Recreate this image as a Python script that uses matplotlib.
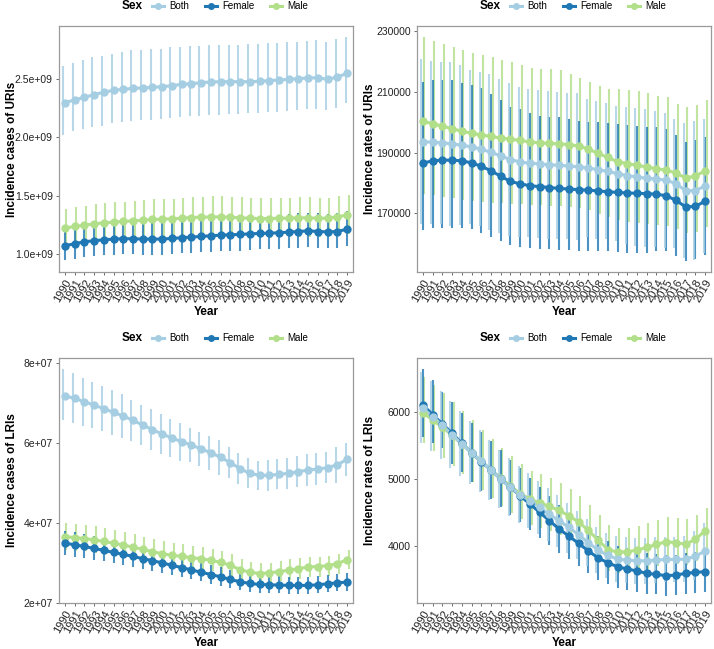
import matplotlib
matplotlib.use("Agg")
import matplotlib.pyplot as plt
from matplotlib.lines import Line2D
import numpy as np

plt.rcParams['font.family'] = ['Liberation Sans', 'DejaVu Sans']

YEARS = list(range(1990, 2020))
SEXES = ['Both', 'Female', 'Male']
COLORS = {'Both': '#A6CEE3', 'Female': '#1F78B4', 'Male': '#B2DF8A'}

# ---- Incidence cases of URIs (x 1e9) ----
uri_cases_both = [2.297, 2.320, 2.343, 2.366, 2.386, 2.403, 2.411, 2.420, 2.423, 2.429,
                  2.434, 2.443, 2.454, 2.460, 2.469, 2.474, 2.477, 2.477, 2.477, 2.477,
                  2.480, 2.486, 2.491, 2.497, 2.503, 2.509, 2.511, 2.497, 2.517, 2.549]
uri_cases_both_hi = [2.61, 2.64, 2.665, 2.69, 2.70, 2.715, 2.73, 2.745, 2.75, 2.755,
                     2.76, 2.77, 2.775, 2.78, 2.785, 2.79, 2.79, 2.795, 2.795, 2.80,
                     2.80, 2.805, 2.81, 2.815, 2.82, 2.825, 2.83, 2.82, 2.84, 2.86]
uri_cases_both_lo = [2.02, 2.05, 2.07, 2.09, 2.10, 2.12, 2.13, 2.14, 2.145, 2.15,
                     2.16, 2.165, 2.17, 2.18, 2.185, 2.19, 2.195, 2.20, 2.20, 2.205,
                     2.21, 2.215, 2.22, 2.225, 2.23, 2.24, 2.24, 2.23, 2.25, 2.29]
uri_cases_female = [1.071, 1.088, 1.105, 1.114, 1.122, 1.128, 1.131, 1.131, 1.128, 1.128,
                    1.128, 1.134, 1.139, 1.145, 1.151, 1.156, 1.162, 1.165, 1.168, 1.173,
                    1.176, 1.179, 1.182, 1.188, 1.193, 1.199, 1.193, 1.190, 1.193, 1.213]
uri_cases_female_hi = [1.21, 1.23, 1.25, 1.26, 1.27, 1.275, 1.28, 1.28, 1.275, 1.275,
                       1.275, 1.28, 1.29, 1.295, 1.30, 1.305, 1.31, 1.315, 1.32, 1.325,
                       1.33, 1.33, 1.335, 1.34, 1.35, 1.355, 1.35, 1.345, 1.35, 1.37]
uri_cases_female_lo = [0.945, 0.96, 0.975, 0.985, 0.99, 0.995, 1.0, 1.0, 0.995, 0.995,
                       0.995, 1.0, 1.005, 1.01, 1.015, 1.02, 1.025, 1.03, 1.03, 1.035,
                       1.04, 1.04, 1.045, 1.05, 1.055, 1.06, 1.055, 1.05, 1.055, 1.07]
uri_cases_male = [1.222, 1.236, 1.247, 1.259, 1.267, 1.273, 1.279, 1.284, 1.290, 1.296,
                  1.299, 1.301, 1.307, 1.313, 1.316, 1.318, 1.318, 1.316, 1.310, 1.307,
                  1.304, 1.304, 1.307, 1.307, 1.310, 1.310, 1.307, 1.307, 1.318, 1.335]
uri_cases_male_hi = [1.39, 1.40, 1.415, 1.43, 1.435, 1.445, 1.45, 1.455, 1.46, 1.47,
                     1.475, 1.475, 1.48, 1.49, 1.49, 1.495, 1.495, 1.49, 1.485, 1.48,
                     1.48, 1.48, 1.48, 1.48, 1.485, 1.485, 1.48, 1.48, 1.495, 1.51]
uri_cases_male_lo = [1.07, 1.08, 1.09, 1.10, 1.11, 1.115, 1.12, 1.125, 1.13, 1.135,
                     1.14, 1.14, 1.145, 1.15, 1.15, 1.155, 1.155, 1.15, 1.145, 1.145,
                     1.14, 1.14, 1.145, 1.145, 1.145, 1.145, 1.145, 1.145, 1.155, 1.17]

# ---- Incidence rates of URIs ----
uri_rates_both = [193600, 193400, 193200, 192900, 192400, 191900, 191100, 190100, 188900, 187700,
                  186900, 186500, 186300, 186000, 185800, 185600, 185300, 184900, 184400, 183800,
                  183100, 182400, 182000, 181500, 181300, 180900, 179800, 177400, 177500, 179000]
uri_rates_both_hi = [220700, 220200, 219800, 219800, 218700, 217200, 216500, 215700, 214200, 212800,
                     211700, 210800, 210600, 210400, 209900, 209700, 209500, 207500, 207100, 206200,
                     205300, 204900, 204600, 204200, 203800, 203100, 200900, 199600, 200500, 200900]
uri_rates_both_lo = [166500, 166600, 166600, 166000, 166100, 166600, 165700, 164500, 163600, 162600,
                     162100, 162200, 162000, 161600, 161700, 161500, 161100, 162300, 161700, 161400,
                     160900, 159900, 159400, 158800, 158800, 158700, 158700, 155200, 154500, 157100]
uri_rates_female = [186500, 187300, 187500, 187500, 187300, 186600, 185500, 184000, 182200, 180500,
                    179700, 179100, 178800, 178500, 178200, 178000, 177800, 177600, 177400, 177100,
                    176900, 176700, 176600, 176500, 176300, 175800, 174300, 172100, 172300, 174000]
uri_rates_female_hi = [213300, 213900, 213900, 213800, 213000, 212200, 211100, 209200, 207300, 205100,
                       204500, 202900, 202100, 201800, 201600, 200900, 200500, 200100, 200100, 199800,
                       199400, 199000, 198700, 198500, 198300, 197600, 195700, 193600, 194100, 195200]
uri_rates_female_lo = [164500, 165100, 165300, 165300, 165100, 164700, 163600, 162100, 160900, 159600,
                       158800, 158600, 158400, 158200, 157900, 157900, 157700, 157500, 157500, 157500,
                       157300, 157100, 156800, 157100, 157700, 157500, 156000, 154400, 154900, 156300]
uri_rates_male = [200300, 199500, 198700, 197900, 197000, 196400, 195800, 195300, 194800, 194400,
                  194000, 193500, 193200, 193000, 192900, 192600, 192200, 191200, 189700, 188400,
                  187000, 186400, 185800, 185300, 184700, 184200, 183300, 181600, 182300, 184000]
uri_rates_male_hi = [228100, 226700, 225800, 224600, 223700, 222900, 222100, 221400, 220300, 219700,
                     218900, 217800, 217600, 217400, 217200, 215800, 214600, 213300, 211900, 210900,
                     210800, 210600, 210400, 209700, 208600, 208400, 206000, 205100, 205500, 207300]
uri_rates_male_lo = [176500, 176000, 175500, 175000, 174500, 174000, 173700, 173500, 173300, 173100,
                     173000, 172800, 172600, 172500, 172400, 172200, 171800, 171000, 169800, 168700,
                     167800, 167300, 166900, 166500, 166200, 165800, 165000, 163400, 164000, 165500]

# ---- Incidence cases of LRIs (x 1e7) ----
lri_cases_both = [7.176, 7.109, 7.026, 6.943, 6.851, 6.759, 6.668, 6.559, 6.443, 6.326,
                  6.218, 6.118, 6.026, 5.943, 5.843, 5.751, 5.634, 5.501, 5.351, 5.234,
                  5.184, 5.184, 5.209, 5.234, 5.276, 5.318, 5.343, 5.376, 5.451, 5.584]
lri_cases_both_hi = [7.834, 7.734, 7.626, 7.518, 7.418, 7.318, 7.218, 7.068, 6.943, 6.834,
                     6.718, 6.601, 6.501, 6.376, 6.276, 6.168, 6.068, 5.884, 5.734, 5.609,
                     5.551, 5.568, 5.584, 5.618, 5.668, 5.718, 5.734, 5.776, 5.901, 6.001]
lri_cases_both_lo = [6.57, 6.50, 6.43, 6.37, 6.29, 6.20, 6.12, 6.05, 5.95, 5.82,
                     5.72, 5.64, 5.55, 5.51, 5.41, 5.33, 5.20, 5.12, 4.97, 4.86,
                     4.82, 4.80, 4.83, 4.85, 4.88, 4.92, 4.95, 4.98, 5.00, 5.17]
lri_cases_female = [3.488, 3.446, 3.405, 3.355, 3.306, 3.256, 3.207, 3.157, 3.099, 3.050,
                    2.992, 2.934, 2.876, 2.818, 2.760, 2.702, 2.645, 2.578, 2.521, 2.479,
                    2.454, 2.446, 2.438, 2.430, 2.430, 2.430, 2.446, 2.471, 2.496, 2.512]
lri_cases_female_hi = [3.80, 3.76, 3.71, 3.66, 3.60, 3.55, 3.50, 3.44, 3.38, 3.32,
                       3.26, 3.20, 3.13, 3.07, 3.01, 2.95, 2.88, 2.81, 2.75, 2.70,
                       2.67, 2.67, 2.66, 2.65, 2.65, 2.65, 2.67, 2.69, 2.72, 2.74]
lri_cases_female_lo = [3.19, 3.15, 3.12, 3.07, 3.03, 2.98, 2.93, 2.89, 2.84, 2.79,
                       2.74, 2.68, 2.63, 2.58, 2.53, 2.47, 2.42, 2.36, 2.31, 2.27,
                       2.25, 2.24, 2.23, 2.22, 2.22, 2.22, 2.24, 2.26, 2.28, 2.30]
lri_cases_male = [3.653, 3.628, 3.603, 3.570, 3.529, 3.488, 3.438, 3.389, 3.331, 3.273,
                  3.223, 3.182, 3.157, 3.124, 3.099, 3.058, 3.008, 2.934, 2.826, 2.760,
                  2.727, 2.744, 2.777, 2.810, 2.851, 2.893, 2.901, 2.926, 2.975, 3.074]
lri_cases_male_hi = [4.00, 3.97, 3.95, 3.91, 3.86, 3.82, 3.76, 3.71, 3.65, 3.58,
                     3.53, 3.48, 3.46, 3.42, 3.39, 3.35, 3.29, 3.21, 3.09, 3.02,
                     2.99, 3.00, 3.04, 3.08, 3.12, 3.13, 3.14, 3.17, 3.22, 3.31]
lri_cases_male_lo = [3.32, 3.30, 3.28, 3.25, 3.21, 3.17, 3.13, 3.08, 3.03, 2.98,
                     2.93, 2.90, 2.87, 2.84, 2.82, 2.78, 2.74, 2.67, 2.57, 2.51,
                     2.48, 2.50, 2.53, 2.56, 2.59, 2.63, 2.64, 2.66, 2.71, 2.84]

# ---- Incidence rates of LRIs ----
lri_rates_both = [6060, 5935, 5805, 5666, 5526, 5396, 5267, 5137, 5002, 4878,
                  4768, 4680, 4580, 4474, 4379, 4279, 4169, 4050, 3940, 3860,
                  3805, 3790, 3780, 3780, 3790, 3800, 3800, 3805, 3850, 3925]
lri_rates_both_hi = [6606, 6470, 6320, 6170, 6020, 5870, 5730, 5590, 5440, 5310,
                     5190, 5090, 4980, 4870, 4760, 4650, 4530, 4400, 4290, 4200,
                     4150, 4130, 4120, 4120, 4130, 4140, 4140, 4150, 4220, 4350]
lri_rates_both_lo = [5540, 5420, 5300, 5170, 5050, 4930, 4810, 4690, 4570, 4450,
                     4350, 4270, 4180, 4080, 3990, 3900, 3800, 3700, 3590, 3520,
                     3470, 3450, 3440, 3440, 3450, 3460, 3460, 3460, 3500, 3560]
lri_rates_female = [6110, 5965, 5825, 5686, 5536, 5396, 5262, 5137, 5002, 4878,
                    4753, 4628, 4505, 4379, 4255, 4149, 4040, 3928, 3822, 3751,
                    3691, 3657, 3627, 3592, 3577, 3557, 3567, 3592, 3607, 3617]
lri_rates_female_hi = [6642, 6482, 6310, 6160, 5990, 5845, 5700, 5570, 5430, 5290,
                       5160, 5020, 4890, 4750, 4620, 4500, 4380, 4260, 4150, 4070,
                       4000, 3965, 3935, 3895, 3880, 3860, 3870, 3895, 3915, 3925]
lri_rates_female_lo = [5636, 5546, 5460, 5230, 5110, 4960, 4830, 4710, 4590, 4470,
                       4360, 4240, 4120, 4010, 3900, 3800, 3700, 3600, 3500, 3440,
                       3380, 3350, 3320, 3290, 3280, 3260, 3270, 3290, 3300, 3310]
lri_rates_male = [5995, 5885, 5776, 5656, 5526, 5396, 5267, 5137, 5012, 4898,
                  4785, 4700, 4648, 4592, 4533, 4453, 4359, 4234, 4090, 3948,
                  3910, 3915, 3940, 3980, 4025, 4065, 4050, 4030, 4100, 4229]
lri_rates_male_hi = [6532, 6410, 6290, 6160, 6020, 5880, 5740, 5600, 5460, 5340,
                     5220, 5120, 5070, 5010, 4940, 4860, 4750, 4620, 4460, 4310,
                     4270, 4270, 4300, 4340, 4390, 4430, 4420, 4400, 4470, 4570]
lri_rates_male_lo = [5537, 5420, 5310, 5200, 5080, 4960, 4840, 4720, 4600, 4500,
                     4400, 4320, 4270, 4220, 4170, 4100, 4010, 3900, 3760, 3630,
                     3600, 3600, 3620, 3660, 3700, 3740, 3730, 3710, 3770, 3890]


def draw_panel(ax, series, ylabel, ylim, yticks, yticklabels, scale=1.0):
    x = np.array(YEARS)
    dodge = {'Both': -0.17, 'Female': 0.0, 'Male': 0.17}
    order = {'Male': 1, 'Female': 2, 'Both': 3}
    for sex in SEXES:
        val, lo, hi = series[sex]
        ax.vlines(x + dodge[sex], np.array(lo) * scale, np.array(hi) * scale,
                  color=COLORS[sex], lw=1.5, alpha=0.8, zorder=order[sex])
    for sex in SEXES:
        val = np.array(series[sex][0]) * scale
        ax.plot(x, val, color=COLORS[sex], lw=2.2, zorder=10 + order[sex])
        ax.plot(x, val, 'o', color=COLORS[sex], ms=5, zorder=20 + order[sex])

    ax.set_xlim(1989.4, 2019.6)
    ax.set_ylim(ylim)
    ax.set_xticks(YEARS)
    ax.set_xticklabels([str(y) for y in YEARS], rotation=60, ha='right',
                       va='top', rotation_mode='anchor', fontsize=8)
    ax.set_yticks(yticks)
    ax.set_yticklabels(yticklabels, fontsize=7.5, color='#222222')
    ax.tick_params(length=2.5, width=0.6, color='#555555', pad=2)
    ax.tick_params(axis='x', pad=1.5, labelcolor='#222222')
    for sp in ax.spines.values():
        sp.set_color('#9A9A9A')
        sp.set_linewidth(0.9)

    ax.set_xlabel('Year', fontsize=8.5, fontweight='bold')
    ax.xaxis.set_label_coords(0.5, -0.163)
    ax.xaxis.label.set_va('center')
    ax.set_ylabel(ylabel, fontsize=8.5, fontweight='bold')
    ax.yaxis.set_label_coords(-0.16, 0.5)
    ax.yaxis.label.set_va('center')

    # legend on top, with the title on the left
    handles = [Line2D([], [], color=COLORS[s], lw=2.2, marker='o', ms=4) for s in SEXES]
    ax.text(0.285, 1.081, 'Sex', transform=ax.transAxes, ha='right', va='center',
            fontsize=8.5, fontweight='bold')
    ax.legend(handles, SEXES, loc='center left', bbox_to_anchor=(0.315, 1.081),
              ncol=3, frameon=False, fontsize=7, handlelength=1.3,
              handletextpad=0.5, columnspacing=1.6, borderpad=0, borderaxespad=0)


fig = plt.figure(figsize=(7.14, 6.49), dpi=100)
W, H = 714, 649
ax1 = fig.add_axes([59 / W, (H - 272) / H, 294 / W, 246 / H])
ax2 = fig.add_axes([417 / W, (H - 272) / H, 294 / W, 246 / H])
ax3 = fig.add_axes([59 / W, (H - 603) / H, 294 / W, 245 / H])
ax4 = fig.add_axes([417 / W, (H - 603) / H, 294 / W, 245 / H])

draw_panel(ax1, {'Both': (uri_cases_both, uri_cases_both_lo, uri_cases_both_hi),
                 'Female': (uri_cases_female, uri_cases_female_lo, uri_cases_female_hi),
                 'Male': (uri_cases_male, uri_cases_male_lo, uri_cases_male_hi)},
           'Incidence cases of URIs', (0.846e9, 2.954e9),
           [1.0e9, 1.5e9, 2.0e9, 2.5e9], ['1.0e+09', '1.5e+09', '2.0e+09', '2.5e+09'],
           scale=1e9)
draw_panel(ax2, {'Both': (uri_rates_both, uri_rates_both_lo, uri_rates_both_hi),
                 'Female': (uri_rates_female, uri_rates_female_lo, uri_rates_female_hi),
                 'Male': (uri_rates_male, uri_rates_male_lo, uri_rates_male_hi)},
           'Incidence rates of URIs', (150700, 231650),
           [170000, 190000, 210000, 230000], ['170000', '190000', '210000', '230000'])
draw_panel(ax3, {'Both': (lri_cases_both, lri_cases_both_lo, lri_cases_both_hi),
                 'Female': (lri_cases_female, lri_cases_female_lo, lri_cases_female_hi),
                 'Male': (lri_cases_male, lri_cases_male_lo, lri_cases_male_hi)},
           'Incidence cases of LRIs', (1.99e7, 8.12e7),
           [2e7, 4e7, 6e7, 8e7], ['2e+07', '4e+07', '6e+07', '8e+07'],
           scale=1e7)
draw_panel(ax4, {'Both': (lri_rates_both, lri_rates_both_lo, lri_rates_both_hi),
                 'Female': (lri_rates_female, lri_rates_female_lo, lri_rates_female_hi),
                 'Male': (lri_rates_male, lri_rates_male_lo, lri_rates_male_hi)},
           'Incidence rates of LRIs', (3149, 6811),
           [4000, 5000, 6000], ['4000', '5000', '6000'])

fig.savefig('out.png', dpi=100)
